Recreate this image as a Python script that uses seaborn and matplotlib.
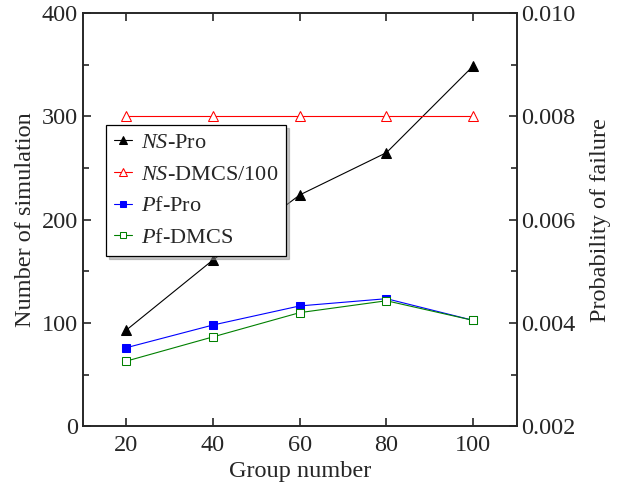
import numpy as np
import pandas as pd
import seaborn as sns
import matplotlib.pyplot as plt

# data
group = [20, 40, 60, 80, 100]
ns_pro = [93, 161, 224, 265, 349]
ns_dmcs = [300, 300, 300, 300, 300]          # NS-DMCS / 100
pf_pro = [0.00352, 0.00396, 0.00433, 0.00447, 0.00405]
pf_dmcs = [0.00326, 0.00373, 0.00420, 0.00443, 0.00405]

sns.set_style("ticks")
plt.rcParams['font.family'] = ['Liberation Serif', 'DejaVu Serif']
plt.rcParams['mathtext.fontset'] = 'custom'
plt.rcParams['mathtext.rm'] = 'Liberation Serif'
plt.rcParams['mathtext.it'] = 'Liberation Serif:italic'
plt.rcParams['font.size'] = 16

fig = plt.figure(figsize=(6.18, 4.91), dpi=100)
ax = fig.add_axes([0.134, 0.132, 0.702, 0.841])
ax2 = ax.twinx()

df = pd.DataFrame({'group': group, 'ns_pro': ns_pro, 'ns_dmcs': ns_dmcs,
                   'pf_pro': pf_pro, 'pf_dmcs': pf_dmcs})

########## left axis ##########
sns.lineplot(data=df, x='group', y='ns_pro', ax=ax, color='black', lw=0.8,
             marker='^', markersize=7, markeredgecolor='black',
             label='$NS$-Pro', legend=False)
sns.lineplot(data=df, x='group', y='ns_dmcs', ax=ax, color='red', lw=0.8,
             marker='^', markersize=7, markerfacecolor='white', markeredgecolor='red',
             label='$NS$-DMCS/100', legend=False)

########## right axis ##########
sns.lineplot(data=df, x='group', y='pf_pro', ax=ax2, color='blue', lw=0.8,
             marker='s', markersize=6, markeredgecolor='blue',
             label='$P$f-Pro', legend=False)
sns.lineplot(data=df, x='group', y='pf_dmcs', ax=ax2, color='green', lw=0.8,
             marker='s', markersize=6, markerfacecolor='white', markeredgecolor='green',
             label='$P$f-DMCS', legend=False)

ax.set_xlim(10, 110)
ax.set_ylim(0, 400)
ax2.set_ylim(0.002, 0.010)
ax.set_xticks(group)
ax.set_yticks([0, 100, 200, 300, 400])
ax.set_yticks([50, 150, 250, 350], minor=True)
ax2.set_yticks([0.002, 0.004, 0.006, 0.008, 0.010])
ax2.set_yticks([0.003, 0.005, 0.007, 0.009], minor=True)
ax2.set_yticklabels(['0.002', '0.004', '0.006', '0.008', '0.010'])

ax.tick_params(which='both', direction='in', top=True, width=1.2, labelsize=17.5)
ax.tick_params(axis='x', which='both', pad=6)
ax.tick_params(which='major', length=6)
ax.tick_params(which='minor', length=4)
ax2.tick_params(which='both', direction='in', width=1.2, labelsize=17.5)
ax2.tick_params(which='major', length=6)
ax2.tick_params(which='minor', length=4)
for a in (ax, ax2):
    for s in a.spines.values():
        s.set_linewidth(1.2)

ax.set_xlabel('Group number', fontsize=17.5, labelpad=4)
ax.set_ylabel('Number of simulation', fontsize=17.5, labelpad=4)
ax2.set_ylabel('Probability of failure', fontsize=17.5, labelpad=10)

h1, l1 = ax.get_legend_handles_labels()
h2, l2 = ax2.get_legend_handles_labels()
leg = ax2.legend(h1 + h2, l1 + l2, loc='upper left', bbox_to_anchor=(0.053, 0.73),
                 borderaxespad=0, frameon=True, fancybox=False,
                 shadow={'color': '0.55'}, markerscale=0.75,
                 edgecolor='black', framealpha=1, handlelength=0.85,
                 handletextpad=0.4, labelspacing=0.5, borderpad=0.35)
leg.get_frame().set_linewidth(0.9)

fig.savefig('out.png', dpi=100)
